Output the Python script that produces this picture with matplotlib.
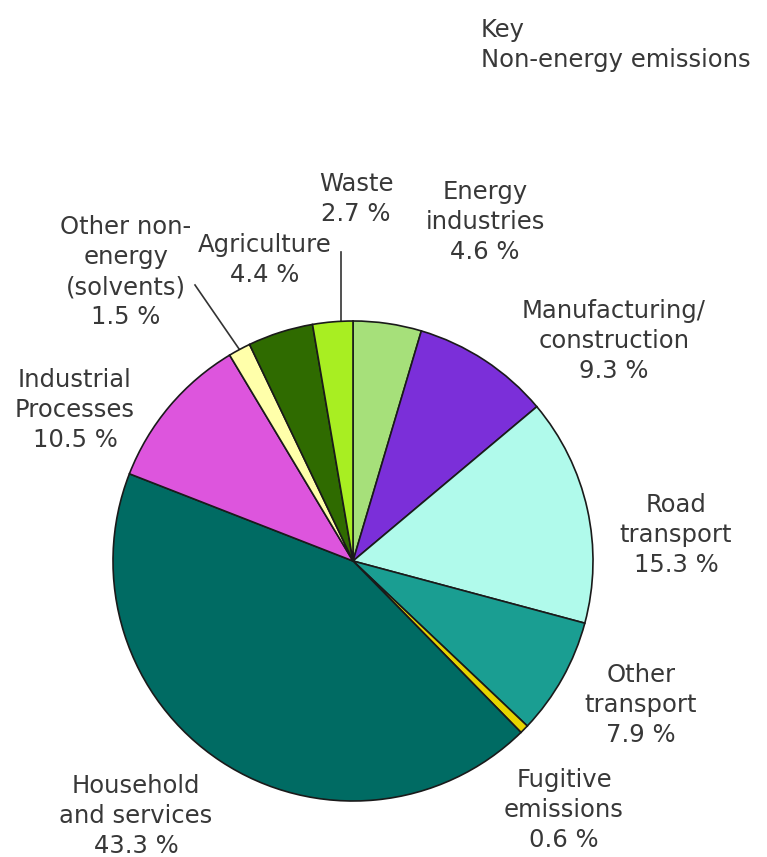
import numpy as np
import matplotlib
matplotlib.use('Agg')
import matplotlib.pyplot as plt

# data, clockwise from 12 o'clock
sectors = ['Energy\nindustries', 'Manufacturing/\nconstruction', 'Road\ntransport',
           'Other\ntransport', 'Fugitive\nemissions', 'Household\nand services',
           'Industrial\nProcesses', 'Other non-\nenergy\n(solvents)', 'Agriculture', 'Waste']
shares = [4.6, 9.3, 15.3, 7.9, 0.6, 43.3, 10.5, 1.5, 4.4, 2.7]
colors = ['#a6e07a', '#7b2fd9', '#b0faeb', '#1a9e92', '#e6d400',
          '#006b63', '#dd55dd', '#ffffaa', '#2f6b00', '#a8ee22']

# label block centres in pixels (x, y from top)
label_pos = [(485, 222), (614, 341), (676, 535), (641, 705), (564, 810),
             (136, 816), (75, 410), (126, 272), (265, 260), (356, 199)]

W, H = 767, 857
CX, CY, R = 353, 561, 240   # pie centre / radius in pixels
TXT = '#383838'
FS = 17.5
LS = 1.32

fig = plt.figure(figsize=(W / 100, H / 100), dpi=100)

ax = fig.add_axes([(CX - R) / W, (H - CY - R) / H, 2 * R / W, 2 * R / H])
wedges, _ = ax.pie(shares, colors=colors, startangle=90, counterclock=False,
                   radius=1, wedgeprops=dict(edgecolor='#1a1a1a', linewidth=1.2))
ax.set_xlim(-1, 1)
ax.set_ylim(-1, 1)
ax.set_aspect('equal')
ax.axis('off')

# overlay in pixel coords for the text
ov = fig.add_axes([0, 0, 1, 1], zorder=-1)
ov.set_xlim(0, W)
ov.set_ylim(H, 0)
ov.axis('off')

for name, val, (x, y) in zip(sectors, shares, label_pos):
    ov.text(x, y, '%s\n%.1f %%' % (name, val), ha='center', va='center',
            fontsize=FS, color=TXT, linespacing=LS)


def edge_point(w, frac=0.5):
    ang = np.deg2rad(w.theta1 + (w.theta2 - w.theta1) * frac)
    return CX + R * np.cos(ang), CY - R * np.sin(ang)

# leader lines
ex, ey = edge_point(wedges[9], 0.3)
ov.plot([ex, ex], [252, ey], color='#333333', lw=1.2)
ex, ey = edge_point(wedges[7])
ov.plot([195, ex], [285, ey], color='#333333', lw=1.2)

ov.text(481, 45, 'Key\nNon-energy emissions', ha='left', va='center',
        fontsize=FS, color=TXT, linespacing=LS)

fig.savefig('out.png', dpi=100)
